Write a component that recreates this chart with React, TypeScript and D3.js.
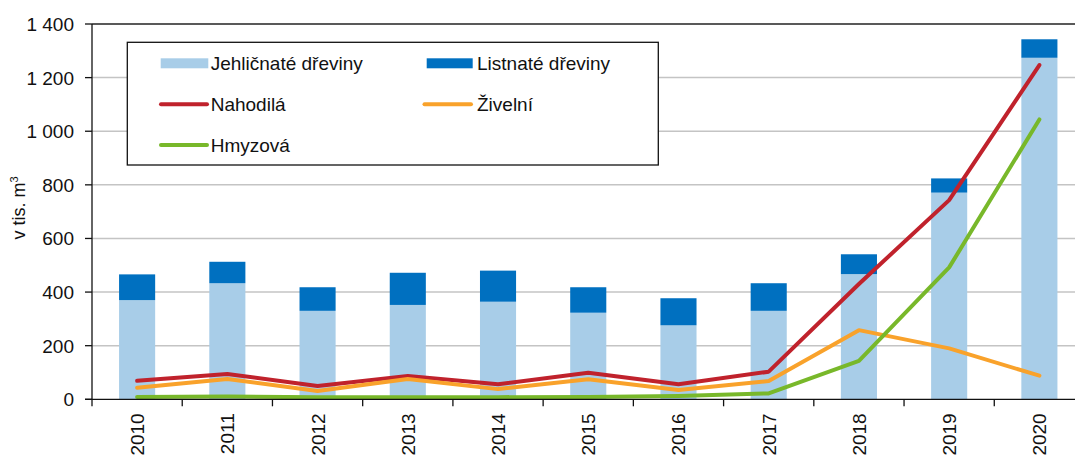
import React from "react";
import * as d3 from "d3";

const years = ["2010", "2011", "2012", "2013", "2014", "2015", "2016", "2017", "2018", "2019", "2020"];
const jehlicnate = [370, 433, 330, 352, 364, 323, 276, 330, 467, 771, 1274];
const listnate = [96, 80, 88, 120, 116, 95, 101, 103, 74, 53, 69];
const nahodila = [69, 94, 50, 87, 56, 99, 56, 103, 430, 743, 1247];
const zivelni = [43, 76, 31, 76, 38, 75, 35, 68, 258, 190, 88];
const hmyzova = [9, 10, 8, 8, 8, 9, 12, 22, 143, 492, 1044];
const yTicks = [0, 200, 400, 600, 800, 1000, 1200, 1400];

const W = 1075;
const H = 456;
const left = 92;
const right = 1084.5;
const top = 24;
const bottom = 399.3;
const FONT = "'Liberation Sans', Arial, sans-serif";

const C_LIGHT = "#A8CDE8";
const C_DARK = "#0070C0";
const C_RED = "#C0222C";
const C_ORANGE = "#F9A22B";
const C_GREEN = "#78B82A";

const fmt = (v: number) => {
  const s = String(v);
  return s.length > 3 ? s.slice(0, s.length - 3) + "\u00a0" + s.slice(-3) : s;
};

export default function App() {
  const x = d3.scaleBand<string>().domain(years).range([left, right]).padding(0);
  const bw = x.bandwidth();
  const y = d3.scaleLinear().domain([0, 1400]).range([bottom, top]);
  const cx = (i: number) => (x(years[i]) as number) + bw / 2;
  const barW = bw * 0.4;

  const line = d3
    .line<number>()
    .x((_, i) => cx(i))
    .y((d) => y(d));

  const series = [
    { data: nahodila, color: C_RED },
    { data: zivelni, color: C_ORANGE },
    { data: hmyzova, color: C_GREEN },
  ];

  return (
    <svg
      width={W}
      height={H}
      style={{ position: "absolute", left: 0, top: 0, background: "#fff" }}
      fontFamily={FONT}
    >
      <rect x={0} y={0} width={W} height={H} fill="#fff" />
      {/* gridlines */}
      {yTicks
        .filter((t) => t > 0 && t < 1400)
        .map((t) => (
          <line key={t} x1={left} x2={right} y1={y(t)} y2={y(t)} stroke="#C4C4C4" strokeWidth={1.5} />
        ))}
      {/* bars */}
      {years.map((yr, i) => {
        const bx = cx(i) - barW / 2;
        return (
          <g key={yr}>
            <rect x={bx} y={y(jehlicnate[i])} width={barW} height={y(0) - y(jehlicnate[i])} fill={C_LIGHT} />
            <rect
              x={bx}
              y={y(jehlicnate[i] + listnate[i])}
              width={barW}
              height={y(jehlicnate[i]) - y(jehlicnate[i] + listnate[i])}
              fill={C_DARK}
            />
          </g>
        );
      })}
      {/* lines */}
      {series.map((s, k) => (
        <path
          key={k}
          d={line(s.data) as string}
          fill="none"
          stroke={s.color}
          strokeWidth={4}
          strokeLinejoin="round"
          strokeLinecap="round"
        />
      ))}
      {/* frame */}
      <line x1={left} x2={right} y1={top} y2={top} stroke="#222" strokeWidth={1.3} />
      <line x1={left} x2={left} y1={top} y2={bottom + 7} stroke="#111" strokeWidth={1.3} />
      <line x1={left - 7} x2={right} y1={bottom} y2={bottom} stroke="#111" strokeWidth={1.3} />
      {/* y ticks */}
      {yTicks.map((t) => (
        <g key={t}>
          <line x1={left - 7} x2={left} y1={y(t)} y2={y(t)} stroke="#111" strokeWidth={1.3} />
          <text x={74} y={y(t) + 7} textAnchor="end" fontSize={19} fill="#111">
            {fmt(t)}
          </text>
        </g>
      ))}
      {/* x ticks */}
      {years.map((yr, i) => (
        <line
          key={"t" + yr}
          x1={(x(yr) as number) + bw}
          x2={(x(yr) as number) + bw}
          y1={bottom}
          y2={bottom + 7}
          stroke="#111"
          strokeWidth={1.3}
        />
      ))}
      {years.map((yr, i) => (
        <text
          key={"l" + yr}
          transform={`translate(${cx(i) + 7},${bottom + 14}) rotate(-90)`}
          textAnchor="end"
          fontSize={19}
          fill="#111"
        >
          {yr}
        </text>
      ))}
      {/* axis title */}
      <text transform={`translate(25,208) rotate(-90)`} textAnchor="middle" fontSize={18} fill="#111">
        v tis. m<tspan dy={-7} fontSize={11}>3</tspan>
      </text>
      {/* legend */}
      <rect x={127.3} y={42.3} width={531} height={122.7} fill="#fff" stroke="#111" strokeWidth={1.3} />
      <rect x={160.7} y={58.3} width={47.6} height={10} fill={C_LIGHT} />
      <text x={210.7} y={70} fontSize={19} fill="#111">Jehličnaté dřeviny</text>
      <rect x={426.7} y={58.3} width={46} height={10} fill={C_DARK} />
      <text x={477} y={70} fontSize={19} fill="#111">Listnaté dřeviny</text>
      <line x1={161} x2={207} y1={104.3} y2={104.3} stroke={C_RED} strokeWidth={4} strokeLinecap="round" />
      <text x={210.7} y={111} fontSize={19} fill="#111">Nahodilá</text>
      <line x1={424.5} x2={471} y1={104.3} y2={104.3} stroke={C_ORANGE} strokeWidth={4} strokeLinecap="round" />
      <text x={477} y={111} fontSize={19} fill="#111">Živelní</text>
      <line x1={161} x2={207} y1={145} y2={145} stroke={C_GREEN} strokeWidth={4} strokeLinecap="round" />
      <text x={210.7} y={152} fontSize={19} fill="#111">Hmyzová</text>
    </svg>
  );
}
